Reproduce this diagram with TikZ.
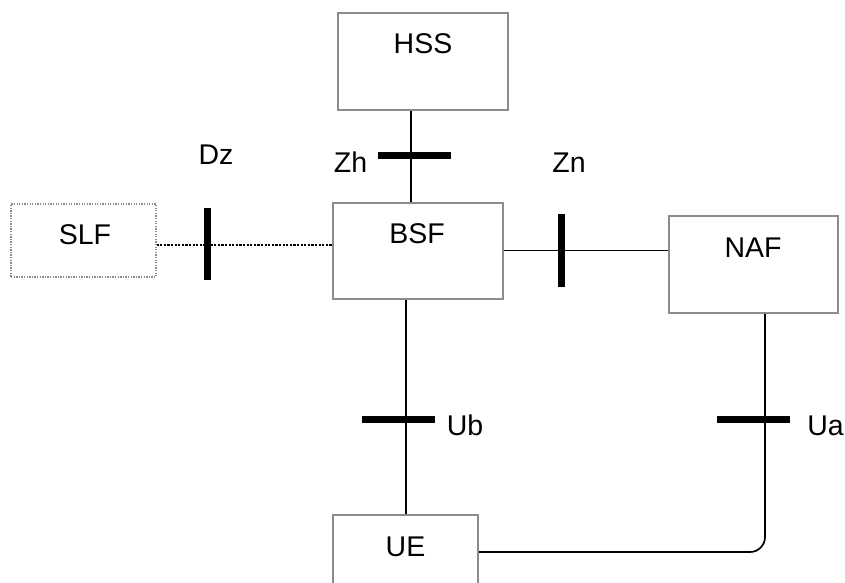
\documentclass[tikz,border=0pt]{standalone}
\usepackage{fontspec}
\setmainfont{Liberation Sans}
\definecolor{boxgray}{RGB}{140,140,140}
\begin{document}
\begin{tikzpicture}[x=1pt,y=-1pt,
  box/.style={draw=boxgray, line width=1.5pt, rectangle, inner sep=0pt},
  dotbox/.style={draw=boxgray, line width=1.3pt, rectangle, inner sep=0pt, dash pattern=on 1.3pt off 1.3pt},
  conn/.style={draw=black, line width=1.7pt},
  dotconn/.style={draw=black, line width=2.6pt, dash pattern=on 2.2pt off 1.4pt},
  hbar/.style={fill=black, draw=none, minimum width=73pt, minimum height=7pt, inner sep=0pt, rectangle},
  vbar/.style={fill=black, draw=none, minimum width=7pt, minimum height=72pt, inner sep=0pt, rectangle},
  lbl/.style={font=\fontsize{28.5}{32}\selectfont, inner sep=0pt, anchor=base}]
\useasboundingbox (0,0) rectangle (845,582);
\clip (0,0) rectangle (845,582);
\fill[white] (0,0) rectangle (845,582);
% boxes
\node[box, minimum width=170pt, minimum height=97pt] (hss) at (423,61.5) {};
\node[box, minimum width=170pt, minimum height=96pt] (bsf) at (418,251) {};
\node[dotbox, minimum width=145pt, minimum height=73pt] (slf) at (83.5,240.5) {};
\node[box, minimum width=169pt, minimum height=97pt] (naf) at (753.5,264.5) {};
\node[box, minimum width=145pt, minimum height=95pt] (ue) at (405.5,562.5) {};
% box texts
\node[lbl] (hsst) at (423,53) {HSS};
\node[lbl] (bsft) at (417,243) {BSF};
\node[lbl] (slft) at (85,244) {SLF};
\node[lbl] (naft) at (753,257) {NAF};
\node[lbl] (uet) at (405.5,556) {UE};
% reference points for connectors
\coordinate (zh) at (411,155);
\coordinate (dz) at (207,245);
\coordinate (zn) at (561,250.5);
\coordinate (ub) at (406,419);
\coordinate (ua) at (765,419);
\coordinate (ueline) at (478,552);
% connectors
\draw[conn] (hss.south -| zh) -- (bsf.north -| zh);
\draw[dotconn] (slf.east |- dz) -- (bsf.west |- dz);
\draw[conn] (bsf.east |- zn) -- (naf.west |- zn);
\draw[conn] (bsf.south -| ub) -- (ue.north -| ub);
\draw[conn, rounded corners=15pt] (ue.east |- ueline) -- (ueline -| ua) -- (naf.south -| ua);
% interface bars
\node[hbar] (zhbar) at (414.5,155) {};
\node[vbar] (dzbar) at (207,244) {};
\node[vbar, minimum height=73pt] (znbar) at (561,250.5) {};
\node[hbar] (ubbar) at (398.5,419) {};
\node[hbar] (uabar) at (753.5,419) {};
% interface labels
\node[lbl] (dzl) at (216,164) {Dz};
\node[lbl] (zhl) at (350.5,172) {Zh};
\node[lbl] (znl) at (569,172) {Zn};
\node[lbl] (ubl) at (465,435) {Ub};
\node[lbl] (ual) at (825.5,435) {Ua};
\end{tikzpicture}
\end{document}
